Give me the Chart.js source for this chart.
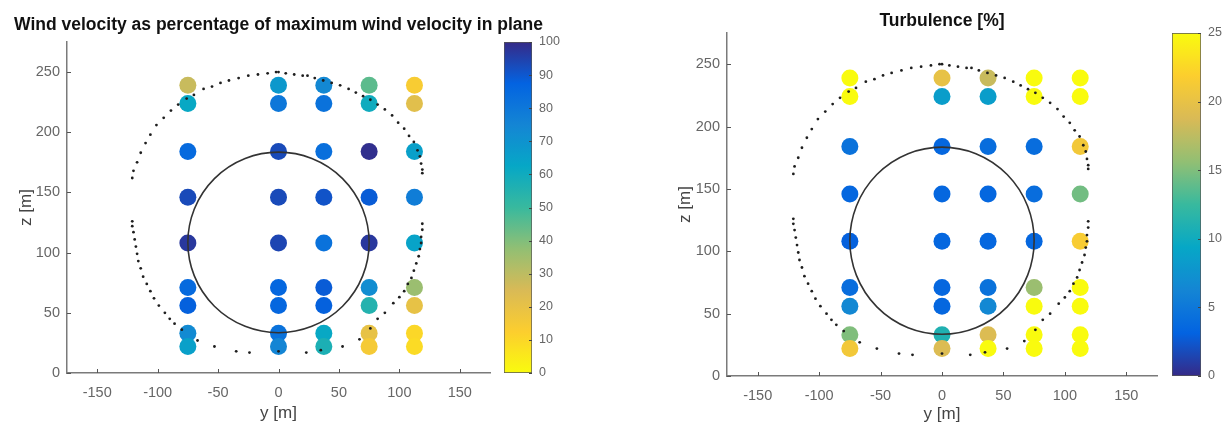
<!DOCTYPE html>
<html>
<head>
<meta charset="utf-8">
<script src="https://cdn.jsdelivr.net/npm/chart.js@4.4.1/dist/chart.umd.min.js"></script>
<style>
  html, body { margin: 0; padding: 0; background: #fff; }
  #page { position: relative; width: 1223px; height: 426px; overflow: hidden; }
  #page canvas { position: absolute; top: 0; display: block; }
</style>
</head>
<body>
<div id="page">
  <canvas id="velChart" width="560" height="426" style="left:0"></canvas>
  <canvas id="velBar" width="120" height="426" style="left:480px"></canvas>
  <canvas id="turbChart" width="530" height="426" style="left:640px"></canvas>
  <canvas id="turbBar" width="73" height="426" style="left:1150px"></canvas>
</div>
<script>
// measurement grid (lateral position y and height z, metres)
const gridY = [-75, 0, 37.5, 75, 112.5];
const gridZ = [239, 224, 184, 146, 108, 71, 56, 33, 22];

// one row per column of gridY, values top to bottom as in gridZ
const velocity = [
  [28, 62, 85, 93, 97, 85, 88, 73, 65],
  [68, 80, 93, 93, 94, 86, 86, 82, 75],
  [74, 82, 83, 91, 82, 89, 88, 62, 57],
  [45, 60, 99, 89, 97, 72, 55, 20, 15],
  [14, 22, 65, 78, 64, 36, 20, 10, 9]
];
const turbulence = [
  [25, 25, 4.5, 3.5, 3, 4, 6.5, 15, 21],
  [20, 8.5, 3.5, 3.5, 3.5, 3.5, 3.5, 11, 19],
  [18, 8.5, 4, 3.5, 3.5, 4.5, 6.5, 19, 25],
  [25, 25, 4, 4, 3.5, 16, 25, 25, 25],
  [25, 25, 21, 14.5, 21.5, 25, 25, 25, 25]
];

// scanned trajectory (small black dots)
const trackY = [-121, -120, -117, -114, -110, -106, -101, -95, -89, -83, -76, -70, -62, -55, -48, -41, -33, -25, -17, -9, -2, 0, 6, 13, 20, 24, 30, 37, 44, 51, 58, 64, 70, 76, 82, 88, 94, 99, 104, 108, 112, 115, 117, 118, 119, 119,
  119, 119, 118, 118, 117, 116, 114, 112, 110, 107, 104, 100, 95, 88, 82, 76, 67, 53, 35, 23, 0, -24, -35, -53, -67,
  -80, -86, -90, -94, -99, -103, -106, -109, -112, -114, -116, -117, -118, -119, -120, -121, -121];
const trackZ = [162, 168, 175, 183, 191, 198, 206, 212, 218, 223, 228, 231, 236, 238, 241, 243, 245, 247, 248, 249, 250, 250, 249, 248, 247, 247, 245, 243, 241, 239, 236, 233, 230, 227, 223, 219, 214, 208, 203, 197, 192, 185, 180, 174, 169, 166,
  124, 119, 113, 108, 103, 97, 91, 85, 79, 74, 68, 63, 58, 50, 45, 37, 28, 22, 19, 17, 18, 17, 18, 22, 27,
  36, 41, 45, 50, 56, 62, 68, 74, 80, 87, 93, 99, 105, 111, 117, 122, 126];

// rotor disk
const ROTOR_HUB = 108.5;
const ROTOR_RADIUS = 75;

const Y_RANGE = [-175, 175];
const Z_RANGE = [0, 275];
const Y_TICKS = [-150, -100, -50, 0, 50, 100, 150];
const Z_TICKS = [0, 50, 100, 150, 200, 250];
const VEL_TICKS = [0, 10, 20, 30, 40, 50, 60, 70, 80, 90, 100];
const TURB_TICKS = [0, 5, 10, 15, 20, 25];

const PARULA = ['#352a87', '#0363e1', '#1485d4', '#06a7c6', '#38b99e', '#92bf73', '#d9ba56', '#fcce2e', '#f9fb0e'];

const FONT = "'Liberation Sans', Arial, Helvetica, sans-serif";
const AXIS_COLOR = '#7a7a7a';
const TICK_COLOR = '#666';
Chart.defaults.font.family = FONT;
Chart.defaults.animation = false;

function hexRgb(h) {
  return [1, 3, 5].map(i => parseInt(h.slice(i, i + 2), 16));
}

function parula(t) {
  t = Math.min(1, Math.max(0, t));
  const n = PARULA.length - 1;
  const i = Math.min(n - 1, Math.floor(t * n));
  const f = t * n - i;
  const a = hexRgb(PARULA[i]);
  const b = hexRgb(PARULA[i + 1]);
  const c = a.map((v, k) => Math.round(v + (b[k] - v) * f));
  return `rgb(${c[0]},${c[1]},${c[2]})`;
}

// velocity uses the flipped map (0 = yellow), turbulence the normal one
const velColor = v => parula(1 - v / 100);
const turbColor = v => parula(v / 25);

const panelTitle = {
  id: 'panelTitle',
  afterDraw(chart, args, opts) {
    const { ctx, chartArea } = chart;
    ctx.save();
    ctx.font = `bold ${opts.size}px ${FONT}`;
    ctx.fillStyle = '#111';
    ctx.textAlign = 'center';
    ctx.textBaseline = 'middle';
    ctx.fillText(opts.text, (chartArea.left + chartArea.right) / 2, opts.y);
    ctx.restore();
  }
};

const rotor = {
  id: 'rotor',
  afterDatasetsDraw(chart) {
    const { ctx, scales: { x, y } } = chart;
    const cx = x.getPixelForValue(0);
    const cy = y.getPixelForValue(ROTOR_HUB);
    const rx = Math.abs(x.getPixelForValue(ROTOR_RADIUS) - cx);
    const ry = Math.abs(y.getPixelForValue(ROTOR_HUB + ROTOR_RADIUS) - cy);
    ctx.save();
    ctx.strokeStyle = '#333';
    ctx.lineWidth = 1.6;
    ctx.beginPath();
    ctx.ellipse(cx, cy, rx, ry, 0, 0, Math.PI * 2);
    ctx.stroke();
    ctx.restore();
  }
};

// matlab style ticks pointing into the plot
const innerTicks = {
  id: 'innerTicks',
  afterDraw(chart, args, opts) {
    const { ctx, chartArea: a } = chart;
    ctx.save();
    ctx.strokeStyle = opts.color;
    ctx.lineWidth = 1;
    ctx.beginPath();
    for (const id of opts.axes) {
      const s = chart.scales[id];
      for (const t of s.ticks) {
        const p = Math.round(s.getPixelForValue(t.value)) + 0.5;
        if (s.isHorizontal()) {
          ctx.moveTo(p, a.bottom);
          ctx.lineTo(p, a.bottom - opts.length);
        } else if (s.position === 'left') {
          ctx.moveTo(a.left, p);
          ctx.lineTo(a.left + opts.length, p);
        } else {
          ctx.moveTo(a.right, p);
          ctx.lineTo(a.right - opts.length, p);
        }
      }
    }
    ctx.stroke();
    ctx.restore();
  }
};

function makePanel(id, cfg) {
  const points = [];
  gridY.forEach((y, c) => {
    gridZ.forEach((z, r) => points.push({ x: y, y: z, v: cfg.values[c][r] }));
  });
  const track = trackY.map((y, i) => ({ x: y, y: trackZ[i] }));

  return new Chart(document.getElementById(id), {
    type: 'scatter',
    data: {
      datasets: [
        {
          data: track,
          pointRadius: 1.4,
          pointBorderWidth: 0,
          pointBackgroundColor: '#1e1e1e',
          order: 0
        },
        {
          data: points,
          pointRadius: 8.5,
          pointBorderWidth: 0,
          pointBackgroundColor: ctx => (ctx.raw ? cfg.color(ctx.raw.v) : '#000'),
          order: 1
        }
      ]
    },
    options: {
      responsive: false,
      events: [],
      layout: { padding: cfg.padding },
      plugins: {
        legend: { display: false },
        tooltip: { enabled: false },
        panelTitle: { text: cfg.title, y: cfg.titleY, size: 17.5 },
        innerTicks: { axes: ['x', 'y'], length: 4, color: '#555' }
      },
      scales: {
        x: {
          type: 'linear',
          min: Y_RANGE[0],
          max: Y_RANGE[1],
          afterBuildTicks: s => { s.ticks = Y_TICKS.map(v => ({ value: v })); },
          afterFit: s => { s.height = cfg.xHeight; },
          grid: { display: false, drawTicks: false },
          border: { color: AXIS_COLOR, width: 1.5 },
          ticks: { color: TICK_COLOR, font: { size: 14.5 }, padding: 11, maxRotation: 0 },
          title: { display: true, text: 'y [m]', color: '#444', font: { size: 17 }, padding: 0 }
        },
        y: {
          type: 'linear',
          min: Z_RANGE[0],
          max: Z_RANGE[1],
          afterBuildTicks: s => { s.ticks = Z_TICKS.map(v => ({ value: v })); },
          afterFit: s => { s.width = cfg.yWidth; },
          grid: { display: false, drawTicks: false },
          border: { color: AXIS_COLOR, width: 1.5 },
          ticks: { color: TICK_COLOR, font: { size: 14.5 }, padding: 7 },
          title: { display: true, text: 'z [m]', color: '#444', font: { size: 17 }, padding: 0 }
        }
      }
    },
    plugins: [panelTitle, rotor, innerTicks]
  });
}

function makeColorbar(id, cfg) {
  return new Chart(document.getElementById(id), {
    type: 'bar',
    data: {
      labels: [''],
      datasets: [{
        data: [cfg.max],
        backgroundColor: ctx => {
          const a = ctx.chart.chartArea;
          if (!a) return null;
          const g = ctx.chart.ctx.createLinearGradient(0, a.bottom, 0, a.top);
          for (let k = 0; k <= 32; k++) {
            g.addColorStop(k / 32, cfg.color(k / 32 * cfg.max));
          }
          return g;
        },
        borderColor: '#555',
        borderWidth: 1,
        borderSkipped: false,
        barPercentage: 1,
        categoryPercentage: 1
      }]
    },
    options: {
      responsive: false,
      events: [],
      layout: { padding: cfg.padding },
      plugins: {
        legend: { display: false },
        tooltip: { enabled: false },
        innerTicks: { axes: ['y'], length: 3, color: '#444' }
      },
      scales: {
        x: { display: false },
        y: {
          position: 'right',
          min: 0,
          max: cfg.max,
          afterBuildTicks: s => { s.ticks = cfg.ticks.map(v => ({ value: v })); },
          afterFit: s => { s.width = cfg.axisWidth; },
          grid: { display: false, drawTicks: false },
          border: { display: false },
          ticks: { color: TICK_COLOR, font: { size: 12.5 }, padding: 7 }
        }
      }
    },
    plugins: [innerTicks]
  });
}

makePanel('velChart', {
  values: velocity,
  color: velColor,
  title: 'Wind velocity as percentage of maximum wind velocity in plane',
  titleY: 25,
  padding: { left: 16, right: 70, top: 42, bottom: 2 },
  yWidth: 51,
  xHeight: 51
});

makeColorbar('velBar', {
  max: 100,
  ticks: VEL_TICKS,
  color: velColor,
  padding: { left: 24, right: 0, top: 42, bottom: 53 },
  axisWidth: 68
});

makePanel('turbChart', {
  values: turbulence,
  color: turbColor,
  title: 'Turbulence [%]',
  titleY: 21,
  padding: { left: 35, right: 13, top: 33, bottom: 1 },
  yWidth: 52,
  xHeight: 49
});

makeColorbar('turbBar', {
  max: 25,
  ticks: TURB_TICKS,
  color: turbColor,
  padding: { left: 22, right: 0, top: 33, bottom: 50 },
  axisWidth: 22
});
</script>
</body>
</html>
